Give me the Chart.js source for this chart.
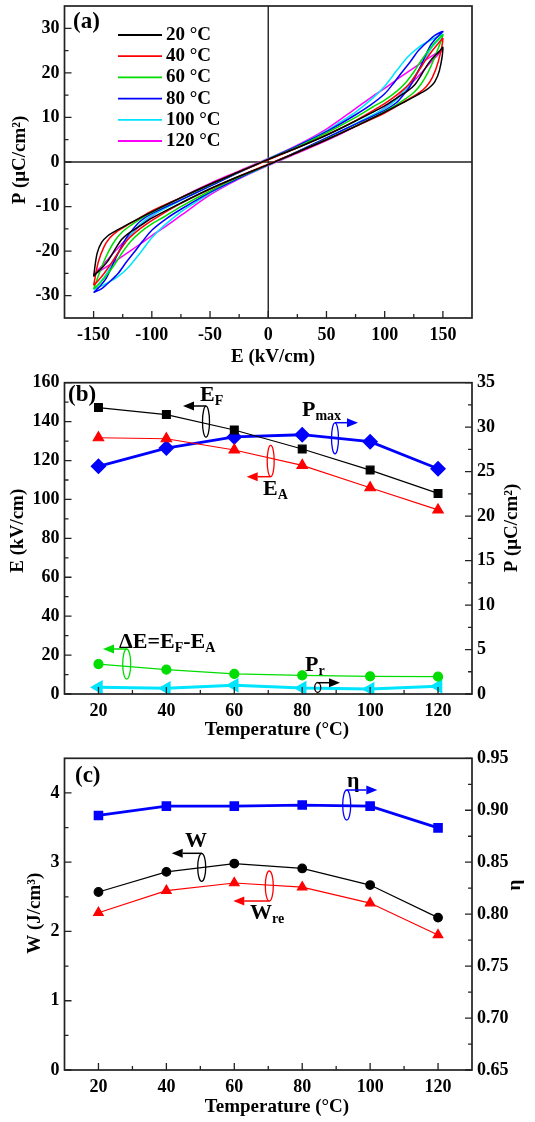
<!DOCTYPE html>
<html>
<head>
<meta charset="utf-8">
<script src="https://cdn.jsdelivr.net/npm/chart.js@4.4.0/dist/chart.umd.min.js"></script>
<style>
  body { margin: 0; background: #fff; width: 535px; height: 1122px; position: relative; overflow: hidden; }
  canvas { position: absolute; left: 0; }
</style>
</head>
<body>
<canvas id="chartA" width="535" height="368" style="top:0px"></canvas>
<canvas id="chartB" width="535" height="370" style="top:370px"></canvas>
<canvas id="chartC" width="535" height="382" style="top:740px"></canvas>
<script>
// ---- (a) P-E loops: [E kV/cm, P uC/cm2], rising branch then falling branch
const loopLabels = ['20 °C', '40 °C', '60 °C', '80 °C', '100 °C', '120 °C'];
const loopColors = ['#000000', '#ff0000', '#00dd00', '#0000ff', '#00e5ff', '#ff00ff'];

const loop20up = [[-150,-25.7],[-147,-24.8],[-143,-23.8],[-138,-22.3],[-132,-19.8],[-126,-17.4],[-120,-16.0],[-110,-14.3],[-100,-12.6],[-75,-9.2],[-50,-6.0],[-25,-3.2],[0,-0.6],[25,2.2],[50,5.0],[75,8.0],[100,11.2],[115,13.2],[125,14.6],[132,15.6],[138,16.6],[143,18.0],[147,20.5],[150,25.7]];
const loop20down = [[150,25.7],[147,24.8],[143,23.8],[138,22.3],[132,19.8],[126,17.4],[120,16.0],[110,14.3],[100,12.6],[75,9.2],[50,6.0],[25,3.2],[0,0.6],[-25,-2.2],[-50,-5.0],[-75,-8.0],[-100,-11.2],[-115,-13.2],[-125,-14.6],[-132,-15.6],[-138,-16.6],[-143,-18.0],[-147,-20.5],[-150,-25.7]];

const loop40up = [[-150,-27.7],[-146,-26.6],[-141,-25.0],[-135,-22.8],[-128,-20.0],[-121,-17.5],[-114,-15.8],[-105,-14.0],[-95,-12.3],[-75,-9.3],[-50,-6.1],[-25,-3.2],[0,-0.5],[25,2.2],[50,5.0],[75,8.0],[100,11.0],[112,12.8],[122,14.3],[130,15.6],[136,17.0],[141,19.0],[146,22.5],[150,27.7]];
const loop40down = [[150,27.7],[146,26.6],[141,25.0],[135,22.8],[128,20.0],[121,17.5],[114,15.8],[105,14.0],[95,12.3],[75,9.3],[50,6.1],[25,3.2],[0,0.5],[-25,-2.2],[-50,-5.0],[-75,-8.0],[-100,-11.0],[-112,-12.8],[-122,-14.3],[-130,-15.6],[-136,-17.0],[-141,-19.0],[-146,-22.5],[-150,-27.7]];

const loop60up = [[-150,-28.5],[-145,-27.3],[-139,-25.5],[-132,-23.0],[-125,-20.2],[-118,-17.8],[-110,-15.8],[-100,-13.9],[-90,-12.4],[-75,-10.0],[-50,-6.5],[-25,-3.4],[0,-0.6],[25,2.2],[50,5.1],[75,8.1],[100,11.3],[110,12.8],[118,14.2],[125,15.6],[131,17.4],[137,20.0],[143,23.5],[150,28.5]];
const loop60down = [[150,28.5],[145,27.3],[139,25.5],[132,23.0],[125,20.2],[118,17.8],[110,15.8],[100,13.9],[90,12.4],[75,10.0],[50,6.5],[25,3.4],[0,0.6],[-25,-2.2],[-50,-5.1],[-75,-8.1],[-100,-11.3],[-110,-12.8],[-118,-14.2],[-125,-15.6],[-131,-17.4],[-137,-20.0],[-143,-23.5],[-150,-28.5]];

const loop80up = [[-150,-29.3],[-143,-28.4],[-136,-26.8],[-129,-25.0],[-122,-22.5],[-115,-20.2],[-108,-17.8],[-100,-15.3],[-88,-12.8],[-75,-10.6],[-50,-6.8],[-25,-3.6],[0,-0.6],[25,2.3],[50,5.4],[75,8.5],[100,11.6],[110,13.3],[116,15.0],[122,17.1],[130,21.0],[139,26.0],[145,28.0],[150,29.3]];
const loop80down = [[150,29.3],[143,28.4],[136,26.8],[129,25.0],[122,22.5],[115,20.2],[108,17.8],[100,15.3],[88,12.8],[75,10.6],[50,6.8],[25,3.6],[0,0.6],[-25,-2.3],[-50,-5.4],[-75,-8.5],[-100,-11.6],[-110,-13.3],[-116,-15.0],[-122,-17.1],[-130,-21.0],[-139,-26.0],[-145,-28.0],[-150,-29.3]];

const loop100up = [[-150,-28.6],[-140,-27.4],[-130,-25.9],[-120,-23.6],[-110,-20.4],[-100,-17.0],[-90,-14.4],[-75,-11.2],[-62,-9.0],[-50,-7.0],[-25,-3.6],[0,-0.7],[25,2.3],[50,5.4],[75,8.6],[100,12.0],[110,14.0],[120,17.0],[130,21.0],[140,25.5],[150,28.6]];
const loop100down = [[150,28.6],[140,27.4],[130,25.9],[120,23.6],[110,20.4],[100,17.0],[90,14.4],[75,11.2],[62,9.0],[50,7.0],[25,3.6],[0,0.7],[-25,-2.3],[-50,-5.4],[-75,-8.6],[-100,-12.0],[-110,-14.0],[-120,-17.0],[-130,-21.0],[-140,-25.5],[-150,-28.6]];

const loop120up = [[-150,-25.3],[-140,-23.7],[-130,-22.0],[-120,-20.2],[-110,-18.4],[-100,-16.5],[-90,-14.8],[-75,-12.0],[-50,-7.4],[-25,-3.8],[0,-0.8],[25,2.0],[50,4.8],[75,8.0],[90,10.4],[100,12.2],[110,14.3],[120,16.8],[130,19.6],[140,22.5],[150,25.3]];
const loop120down = [[150,25.3],[140,23.7],[130,22.0],[120,20.2],[110,18.4],[100,16.5],[90,14.8],[75,12.0],[50,7.4],[25,3.8],[0,0.8],[-25,-2.0],[-50,-4.8],[-75,-8.0],[-90,-10.4],[-100,-12.2],[-110,-14.3],[-120,-16.8],[-130,-19.6],[-140,-22.5],[-150,-25.3]];

const loopsUp = [loop20up, loop40up, loop60up, loop80up, loop100up, loop120up];
const loopsDown = [loop20down, loop40down, loop60down, loop80down, loop100down, loop120down];

const aTicksE = [-150, -100, -50, 0, 50, 100, 150];
const aTicksP = [-30, -20, -10, 0, 10, 20, 30];

// ---- (b) switching fields and polarization vs temperature
const temps = [20, 40, 60, 80, 100, 120];
const eF = [147.2, 143.6, 135.7, 125.9, 115.1, 103.1];
const eA = [131.7, 131.2, 125.4, 117.5, 106.0, 94.6];
const dE = [15.4, 12.5, 10.3, 9.6, 9.1, 8.9];
const pMax = [25.6, 27.65, 28.9, 29.15, 28.37, 25.33];
const pR = [0.75, 0.64, 0.97, 0.67, 0.56, 0.86];
const tTicks = [20, 40, 60, 80, 100, 120];
const bTicksE = [0, 20, 40, 60, 80, 100, 120, 140, 160];
const bTicksP = [0, 5, 10, 15, 20, 25, 30, 35];

// ---- (c) energy storage vs temperature
const wTot = [2.57, 2.86, 2.98, 2.91, 2.67, 2.20];
const wRec = [2.27, 2.59, 2.70, 2.64, 2.41, 1.95];
const eta = [0.895, 0.904, 0.904, 0.905, 0.904, 0.883];
const cTicksW = [0, 1, 2, 3, 4];
const cTicksEta = [0.65, 0.70, 0.75, 0.80, 0.85, 0.90, 0.95];

const serif = '"Liberation Serif", "Times New Roman", serif';
const BLUE = '#0000ff', RED = '#ff0000', GREEN = '#00dd00', CYAN = '#00e5ff';

function xy(xs, ys) { return xs.map((x, i) => ({x: x, y: ys[i]})); }

function axis(pos, min, max, ticks, size, fmt) {
  return {
    type: 'linear', position: pos, min: min, max: max,
    grid: {display: false, drawTicks: false},
    border: {display: false},
    ticks: {
      color: '#000', font: {family: serif, size: 18, weight: 'bold'},
      padding: pos === 'bottom' ? 7 : 5,
      callback: fmt || (v => String(v))
    },
    afterBuildTicks: s => { s.ticks = ticks.map(v => ({value: v})); },
    afterFit: s => {
      if (pos === 'bottom') s.height = size; else s.width = size;
      s.paddingTop = 0; s.paddingBottom = 0; s.paddingLeft = 0; s.paddingRight = 0;
    }
  };
}

// frame + inward major / minor ticks
function frame(ids, zeroLines) {
  return {
    id: 'frame',
    beforeDatasetsDraw(chart) {
      if (!zeroLines) return;
      const {ctx, chartArea: a} = chart;
      const x0 = chart.scales.x.getPixelForValue(0), y0 = chart.scales.y.getPixelForValue(0);
      ctx.save();
      ctx.strokeStyle = '#222'; ctx.lineWidth = 1.4;
      ctx.beginPath();
      ctx.moveTo(x0, a.top); ctx.lineTo(x0, a.bottom);
      ctx.moveTo(a.left, y0); ctx.lineTo(a.right, y0);
      ctx.stroke();
      ctx.restore();
    },
    afterDatasetsDraw(chart) {
      const {ctx, chartArea: a} = chart;
      ctx.save();
      ctx.strokeStyle = '#222';
      ctx.lineWidth = 1.3;
      for (const id of ids) {
        const s = chart.scales[id];
        const vals = s.ticks.map(t => t.value);
        const minors = vals.slice(1).map((v, i) => (v + vals[i]) / 2);
        const marks = vals.map(v => [v, 7]).concat(minors.map(v => [v, 4]));
        ctx.beginPath();
        for (const [v, len] of marks) {
          const p = s.getPixelForValue(v);
          if (s.position === 'bottom') { ctx.moveTo(p, a.bottom); ctx.lineTo(p, a.bottom - len); }
          else if (s.position === 'left') { ctx.moveTo(a.left, p); ctx.lineTo(a.left + len, p); }
          else { ctx.moveTo(a.right, p); ctx.lineTo(a.right - len, p); }
        }
        ctx.stroke();
      }
      ctx.lineWidth = 1.7;
      ctx.strokeRect(a.left, a.top, a.right - a.left, a.bottom - a.top);
      ctx.restore();
    }
  };
}

function notes(draw) {
  return { id: 'notes', afterDraw(chart) { const ctx = chart.ctx; ctx.save(); draw(ctx); ctx.restore(); } };
}

function txt(ctx, s, x, y, size, align) {
  ctx.font = 'bold ' + size + 'px ' + serif;
  ctx.textAlign = align || 'left';
  ctx.textBaseline = 'middle';
  ctx.fillText(s, x, y);
  return ctx.measureText(s).width;
}
function label(ctx, parts, x, y, size) {
  ctx.fillStyle = '#000';
  let cx = x;
  for (const [s, sub] of parts) cx += txt(ctx, s, cx, sub ? y + 6 : y, sub ? 14 : (size || 22));
}
function arrow(ctx, x0, x1, y, color) {
  const dir = Math.sign(x1 - x0), head = 11;
  ctx.strokeStyle = color; ctx.fillStyle = color; ctx.lineWidth = 1.5;
  ctx.beginPath(); ctx.moveTo(x0, y); ctx.lineTo(x1 - dir * head, y); ctx.stroke();
  ctx.beginPath();
  ctx.moveTo(x1, y); ctx.lineTo(x1 - dir * head, y - 4.5); ctx.lineTo(x1 - dir * head, y + 4.5);
  ctx.closePath(); ctx.fill();
}
function ring(ctx, cx, cy, rx, ry, color) {
  ctx.strokeStyle = color; ctx.lineWidth = 1.3;
  ctx.beginPath(); ctx.ellipse(cx, cy, rx, ry, 0, 0, Math.PI * 2); ctx.stroke();
}
function vtitle(ctx, s, x, y) {
  ctx.save(); ctx.translate(x, y); ctx.rotate(-Math.PI / 2);
  ctx.fillStyle = '#000'; txt(ctx, s, 0, 0, 19, 'center');
  ctx.restore();
}

const base = {
  responsive: false, animation: false, events: [], devicePixelRatio: 1,
  plugins: {legend: {display: false}, tooltip: {enabled: false}}
};

// ---------- (a)
new Chart(document.getElementById('chartA'), {
  type: 'scatter',
  data: {
    datasets: loopLabels.map((lab, i) => ({
      label: lab,
      data: loopsUp[i].concat(loopsDown[i].slice(1)).map(([e, p]) => ({x: e, y: p})),
      showLine: true, borderColor: loopColors[i], borderWidth: 1.5,
      pointRadius: 0, tension: 0.3, fill: false
    }))
  },
  options: Object.assign({}, base, {
    layout: {padding: {top: 6, left: 0, right: 63, bottom: 0}},
    scales: {
      x: axis('bottom', -175, 175, aTicksE, 50),
      y: axis('left', -35, 35, aTicksP, 64.5)
    }
  }),
  plugins: [frame(['x', 'y'], true), notes(ctx => {
    label(ctx, [['(a)']], 73, 22, 23);
    loopLabels.forEach((lab, i) => {
      const y = 35 + i * 21.2;
      ctx.strokeStyle = loopColors[i]; ctx.lineWidth = 1.8;
      ctx.beginPath(); ctx.moveTo(118, y); ctx.lineTo(162, y); ctx.stroke();
      ctx.fillStyle = '#000'; txt(ctx, lab, 166, y, 19);
    });
    vtitle(ctx, 'P (μC/cm²)', 20, 160);
    ctx.fillStyle = '#000'; txt(ctx, 'E (kV/cm)', 273, 357, 19, 'center');
  })]
});

// ---------- (b)
new Chart(document.getElementById('chartB'), {
  type: 'scatter',
  data: {
    datasets: [
      {label: 'E_F', data: xy(temps, eF), yAxisID: 'y', showLine: true, borderColor: '#000', backgroundColor: '#000',
       borderWidth: 1.2, pointStyle: 'rect', pointRadius: 5.5},
      {label: 'E_A', data: xy(temps, eA), yAxisID: 'y', showLine: true, borderColor: RED, backgroundColor: RED,
       borderWidth: 1.2, pointStyle: 'triangle', pointRadius: 6},
      {label: 'dE', data: xy(temps, dE), yAxisID: 'y', showLine: true, borderColor: GREEN, backgroundColor: GREEN,
       borderWidth: 1.2, pointStyle: 'circle', pointRadius: 4.5},
      {label: 'P_max', data: xy(temps, pMax), yAxisID: 'y2', showLine: true, borderColor: BLUE, backgroundColor: BLUE,
       borderWidth: 2.8, pointStyle: 'rectRot', pointRadius: 6},
      {label: 'P_r', data: xy(temps, pR), yAxisID: 'y2', showLine: true, borderColor: CYAN, backgroundColor: CYAN,
       borderWidth: 3, pointStyle: 'triangle', pointRotation: 270, pointRadius: 5.5}
    ]
  },
  options: Object.assign({}, base, {
    layout: {padding: {top: 12.7, left: 0, right: 0, bottom: 0}},
    scales: {
      x: axis('bottom', 10, 130, tTicks, 46),
      y: axis('left', 0, 160, bTicksE, 64.5),
      y2: axis('right', 0, 35, bTicksP, 63)
    }
  }),
  plugins: [frame(['x', 'y', 'y2'], false), notes(ctx => {
    label(ctx, [['(b)']], 68, 25, 23);
    label(ctx, [['E'], ['F', 1]], 200, 25.5);
    arrow(ctx, 206, 183, 36, '#000'); ring(ctx, 206, 51.7, 3.5, 15.5, '#000');
    label(ctx, [['P'], ['max', 1]], 302, 40);
    arrow(ctx, 335, 358, 52.7, BLUE); ring(ctx, 335, 68.3, 3.5, 15.5, BLUE);
    label(ctx, [['E'], ['A', 1]], 263, 119);
    arrow(ctx, 270.7, 246.7, 106.7, RED); ring(ctx, 270.7, 91, 3.5, 15.7, RED);
    label(ctx, [['ΔE=E'], ['F', 1], ['-E'], ['A', 1]], 119, 272);
    arrow(ctx, 126.7, 103, 279, GREEN); ring(ctx, 126.7, 294, 4, 15, GREEN);
    label(ctx, [['P'], ['r', 1]], 305, 295);
    arrow(ctx, 317.7, 340, 312.7, '#000'); ring(ctx, 317.7, 317.5, 3, 5, '#000');
    vtitle(ctx, 'E (kV/cm)', 17.7, 160.7);
    vtitle(ctx, 'P (μC/cm²)', 512, 158);
    ctx.fillStyle = '#000'; txt(ctx, 'Temperature (°C)', 277, 360, 19, 'center');
  })]
});

// ---------- (c)
new Chart(document.getElementById('chartC'), {
  type: 'scatter',
  data: {
    datasets: [
      {label: 'W', data: xy(temps, wTot), yAxisID: 'y', showLine: true, borderColor: '#000', backgroundColor: '#000',
       borderWidth: 1.2, pointStyle: 'circle', pointRadius: 4.3},
      {label: 'W_re', data: xy(temps, wRec), yAxisID: 'y', showLine: true, borderColor: RED, backgroundColor: RED,
       borderWidth: 1.2, pointStyle: 'triangle', pointRadius: 5.5},
      {label: 'eta', data: xy(temps, eta), yAxisID: 'y2', showLine: true, borderColor: BLUE, backgroundColor: BLUE,
       borderWidth: 2.8, pointStyle: 'rect', pointRadius: 4.8}
    ]
  },
  options: Object.assign({}, base, {
    layout: {padding: {top: 18.3, left: 0, right: 0, bottom: 0}},
    scales: {
      x: axis('bottom', 10, 130, tTicks, 52),
      y: axis('left', 0, 4.5, cTicksW, 64.5),
      y2: axis('right', 0.65, 0.95, cTicksEta, 63, v => v.toFixed(2))
    }
  }),
  plugins: [frame(['x', 'y', 'y2'], false), notes(ctx => {
    label(ctx, [['(c)']], 75, 36.5, 23);
    label(ctx, [['η']], 347, 41);
    arrow(ctx, 346.7, 377.3, 50, BLUE); ring(ctx, 346.7, 65, 4, 15, BLUE);
    label(ctx, [['W']], 185, 101.5);
    arrow(ctx, 201.7, 171.7, 113.3, '#000'); ring(ctx, 201.7, 127.3, 4, 14, '#000');
    label(ctx, [['W'], ['re', 1]], 250, 173.5);
    arrow(ctx, 269.3, 233.3, 161, RED); ring(ctx, 269.3, 146, 4, 15, RED);
    vtitle(ctx, 'W (J/cm³)', 35, 173.3);
    vtitle(ctx, 'η', 515, 145);
    ctx.fillStyle = '#000'; txt(ctx, 'Temperature (°C)', 277, 366.7, 19, 'center');
  })]
});
</script>
</body>
</html>
